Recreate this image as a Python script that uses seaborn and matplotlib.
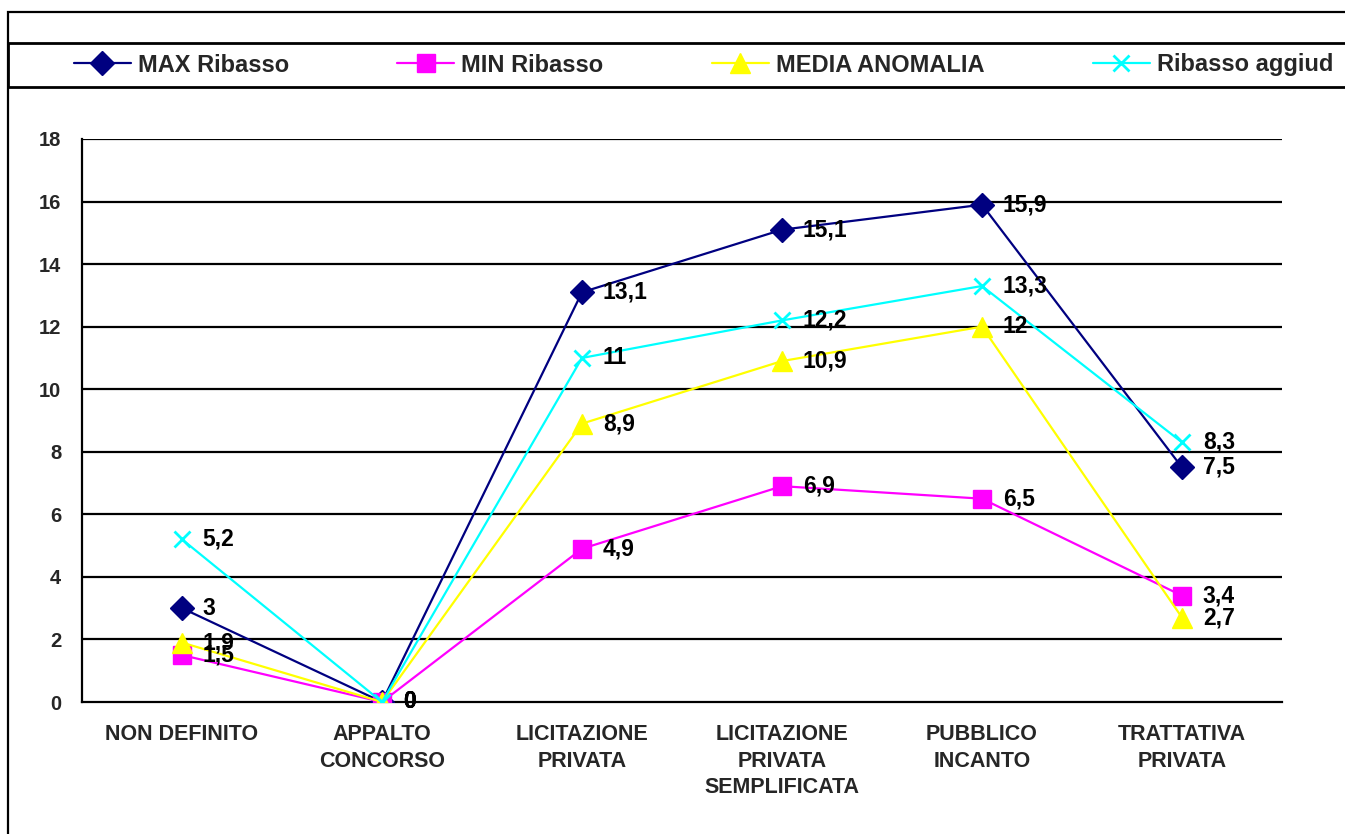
import matplotlib
matplotlib.use("Agg")
import matplotlib.pyplot as plt
from matplotlib.patches import Rectangle
import pandas as pd
import seaborn as sns

# Categories (procurement procedure) and the four series
categories = ["NON DEFINITO", "APPALTO\nCONCORSO", "LICITAZIONE\nPRIVATA",
              "LICITAZIONE\nPRIVATA\nSEMPLIFICATA", "PUBBLICO\nINCANTO",
              "TRATTATIVA\nPRIVATA"]
max_ribasso = [3, 0, 13.1, 15.1, 15.9, 7.5]
min_ribasso = [1.5, 0, 4.9, 6.9, 6.5, 3.4]
media_anomalia = [1.9, 0, 8.9, 10.9, 12, 2.7]
ribasso_aggiud = [5.2, 0, 11, 12.2, 13.3, 8.3]

series_names = ["MAX Ribasso", "MIN Ribasso", "MEDIA ANOMALIA", "Ribasso aggiud"]
series_values = [max_ribasso, min_ribasso, media_anomalia, ribasso_aggiud]
y_ticks = [0, 2, 4, 6, 8, 10, 12, 14, 16, 18]

colors = ["#000080", "#FF00FF", "#FFFF00", "#00FFFF"]
markers = ["D", "s", "^", "x"]
msizes = [12, 13, 14, 12]

rows = []
for name, vals in zip(series_names, series_values):
    for i, v in enumerate(vals):
        rows.append({"pos": i, "value": v, "serie": name})
df = pd.DataFrame(rows)

sns.set_style("white")
plt.rcParams["font.family"] = ["Liberation Sans", "DejaVu Sans"]
plt.rcParams["font.weight"] = "bold"

W, H = 1345, 834
fig = plt.figure(figsize=(W / 100, H / 100), dpi=100)
ax = fig.add_axes([82 / W, 1 - 702 / H, 1200 / W, (702 - 139) / H])

# outer chart frame (left and top edges visible)
fig.patches.append(Rectangle((8 / W, -0.1), 1.2, 1.1 - 12 / H, transform=fig.transFigure,
                             fill=False, edgecolor="black", linewidth=1.6, zorder=0))

# horizontal gridlines
for t in y_ticks[1:]:
    ax.axhline(t, color="black", linewidth=1.6, zorder=1)

handles = []
for name, col, mk, ms in zip(series_names, colors, markers, msizes):
    sub = df[df["serie"] == name]
    sns.lineplot(data=sub, x="pos", y="value", ax=ax, color=col, linewidth=1.6,
                 marker=mk, markersize=ms, markeredgecolor=col,
                 markeredgewidth=2 if mk == "x" else 1, zorder=3, legend=False)
    handles.append(ax.lines[-1])
    for x, v in zip(sub["pos"], sub["value"]):
        lbl = ("%g" % v).replace(".", ",")
        ax.annotate(lbl, (x, v), xytext=(15, 0), textcoords="offset points",
                    ha="left", va="center", fontsize=16.5, fontweight="bold",
                    color="black", zorder=5)

ax.set_xlim(-0.5, len(categories) - 0.5)
ax.set_ylim(0, 18)
ax.set_yticks(y_ticks)
ax.set_yticklabels([str(t) for t in y_ticks], fontsize=14.5, fontweight="bold")
ax.set_xticks(range(len(categories)))
ax.set_xticklabels(categories, fontsize=15.5, fontweight="bold", linespacing=1.35)
ax.tick_params(axis="x", length=0, pad=16)
ax.set_xticks([i - 0.5 for i in range(len(categories) + 1)], minor=True)
ax.tick_params(axis="x", which="minor", length=7, width=1.6, direction="out", color="black")
ax.tick_params(axis="y", length=7, width=1.6, direction="out", color="black", pad=8)
ax.set_xlabel("")
ax.set_ylabel("")
for s in ["top", "right"]:
    ax.spines[s].set_visible(False)
for s in ["left", "bottom"]:
    ax.spines[s].set_color("black")
    ax.spines[s].set_linewidth(1.6)

# legend box across the top
fig.patches.append(Rectangle((8 / W, 1 - 87 / H), 1.2, 44 / H, transform=fig.transFigure,
                             fill=True, facecolor="white", edgecolor="black",
                             linewidth=2, zorder=1))
fig.legend(handles, series_names, loc="center left", ncol=4,
           bbox_to_anchor=(74 / W, 1 - 65 / H), frameon=False,
           prop={"size": 17, "weight": "bold"}, handlelength=2.4,
           handletextpad=0.3, columnspacing=4.6, borderaxespad=0, borderpad=0)

fig.savefig("out.png", dpi=100)
